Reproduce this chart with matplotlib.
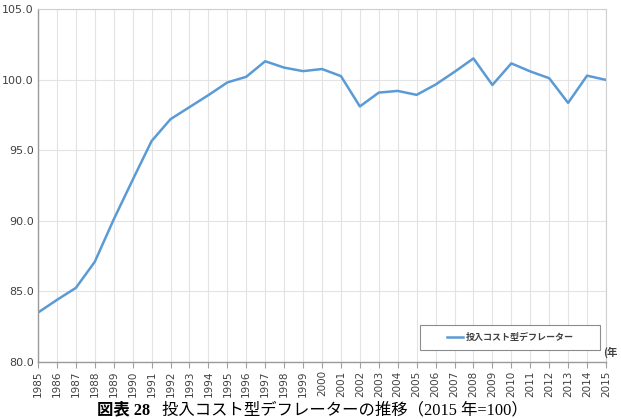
import numpy as np
import matplotlib.pyplot as plt
from matplotlib.patches import Rectangle

# data
years = list(range(1985, 2016))
deflator = [83.5, 84.4, 85.25, 87.1, 90.1, 92.9, 95.65, 97.2, 98.05, 98.9,
            99.8, 100.2, 101.3, 100.85, 100.6, 100.75, 100.25, 98.1, 99.08, 99.2,
            98.92, 99.65, 100.55, 101.5, 99.62, 101.15, 100.58, 100.1, 98.35, 100.28,
            99.98]
series_label = '投入コスト型デフレーター'
y_ticks = [80.0, 85.0, 90.0, 95.0, 100.0, 105.0]
caption_bold = '図表 28'
caption_rest = '投入コスト型デフレーターの推移（2015 年=100）'

line_color = '#5b9bd5'
plt.rcParams['font.family'] = ['DejaVu Sans', 'Noto Sans CJK JP']

fig = plt.figure(figsize=(6.21, 4.19), dpi=100)
ax = fig.add_axes([0.0612, 0.136, 0.9146, 0.8425])

ax.plot(years, deflator, color=line_color, lw=1.8, label=series_label)

ax.set_xlim(years[0], years[-1])
ax.set_ylim(y_ticks[0], y_ticks[-1])
ax.set_xticks(years)
ax.set_xticklabels([str(y) for y in years], rotation=90, fontsize=7.5, color='#404040')
ax.set_yticks(y_ticks)
ax.set_yticklabels([f'{v:.1f}' for v in y_ticks], fontsize=8, color='#404040')
ax.tick_params(axis='x', length=4, color='#a0a0a0', pad=2)
ax.tick_params(axis='y', length=0, pad=3)

ax.grid(True, color='#e3e3e3', lw=0.8)
ax.set_axisbelow(True)
for side in ['left', 'bottom']:
    ax.spines[side].set_color('#9a9a9a')
    ax.spines[side].set_linewidth(1.0)
for side in ['top', 'right']:
    ax.spines[side].set_color('#cfcfcf')
    ax.spines[side].set_linewidth(0.8)

# legend box drawn by hand (wide, centred entry like the Excel original)
ax.add_patch(Rectangle((0.6725, 0.034), 0.3165, 0.071, transform=ax.transAxes,
                       facecolor='white', edgecolor='#8c8c8c', lw=0.8, zorder=5))
ax.plot([0.72, 0.748], [0.0695, 0.0695], transform=ax.transAxes,
        color=line_color, lw=1.8, zorder=6)
ax.text(0.7535, 0.0695, series_label, transform=ax.transAxes, fontsize=6.5,
        fontweight='bold', color='#404040', family=['Noto Sans CJK JP'],
        ha='left', va='center', zorder=6)

fig.text(0.971, 0.16, '(年', fontsize=7.5, fontweight='bold', color='#404040',
         family=['Noto Sans CJK JP'], ha='left', va='center')

fig.text(0.157, 0.011, caption_bold, fontsize=11.8, fontweight='bold',
         family=['Liberation Serif', 'Noto Sans CJK JP'], ha='left', va='baseline')
fig.text(0.261, 0.011, caption_rest, fontsize=11.8,
         family=['Liberation Serif', 'Noto Sans CJK JP'], ha='left', va='baseline')

fig.savefig('out.png', dpi=100)
